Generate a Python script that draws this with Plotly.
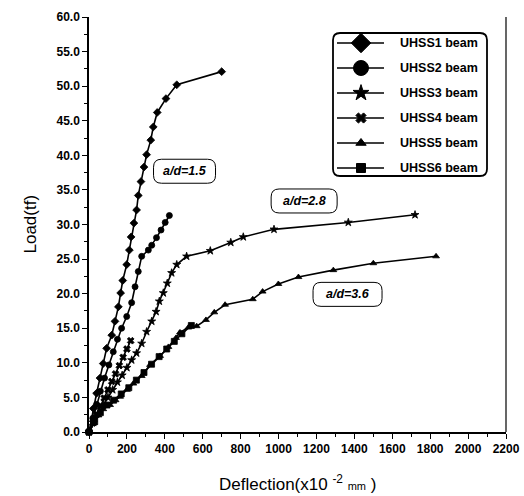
import plotly.graph_objects as go

# ---- load-deflection data (deflection in x10^-2 mm, load in tf) ----
uhss1_x = [0, 23, 40, 58, 75, 93, 120, 137, 155, 167, 178, 199, 213, 222, 237, 251, 260, 274, 290, 304, 326, 339, 360, 406, 463, 700]
uhss1_y = [0, 3.4, 5.6, 7.8, 9.9, 12.1, 14.0, 16.0, 18.1, 20.1, 21.9, 24.2, 26.3, 28.2, 30.2, 32.1, 34.2, 36.2, 38.3, 40.1, 42.2, 44.1, 46.2, 48.2, 50.2, 52.1]

uhss2_x = [0, 20, 40, 60, 82, 105, 128, 150, 172, 199, 225, 243, 260, 278, 313, 331, 356, 380, 402, 424]
uhss2_y = [0, 2.0, 4.0, 5.9, 7.8, 9.7, 11.6, 13.4, 15.0, 16.7, 18.7, 21.0, 23.2, 25.4, 26.3, 27.0, 28.1, 29.2, 30.3, 31.3]

uhss3_x = [0, 25, 50, 75, 100, 125, 150, 175, 200, 225, 251, 278, 304, 331, 354, 371, 392, 413, 436, 463, 515, 640, 748, 814, 976, 1368, 1720]
uhss3_y = [0, 1.4, 2.7, 3.9, 5.0, 6.1, 7.2, 8.2, 9.3, 10.4, 11.4, 12.8, 14.5, 16.0, 17.4, 18.9, 20.1, 21.5, 23.0, 24.2, 25.4, 26.2, 27.4, 28.2, 29.3, 30.3, 31.4]

uhss4_x = [0, 20, 40, 60, 80, 100, 120, 140, 160, 180, 200, 220]
uhss4_y = [0, 1.3, 2.5, 3.7, 4.9, 6.1, 7.3, 8.4, 9.6, 10.8, 12.0, 13.2]

uhss5_x = [0, 25, 50, 75, 111, 140, 164, 200, 234, 278, 322, 375, 419, 459, 480, 524, 568, 617, 661, 718, 864, 916, 999, 1105, 1289, 1500, 1831]
uhss5_y = [0, 1.3, 2.4, 3.3, 3.9, 4.6, 5.1, 6.1, 7.0, 8.1, 9.7, 11.0, 12.3, 13.6, 14.4, 15.1, 15.3, 16.2, 17.3, 18.4, 19.2, 20.3, 21.4, 22.4, 23.4, 24.4, 25.4]

uhss6_x = [0, 30, 60, 95, 130, 170, 210, 250, 290, 330, 370, 410, 450, 490, 540]
uhss6_y = [0, 1.5, 2.8, 3.9, 4.6, 5.5, 6.4, 7.5, 8.6, 9.8, 10.9, 12.0, 13.1, 14.2, 15.4]

series_names = ["UHSS1 beam", "UHSS2 beam", "UHSS3 beam", "UHSS4 beam", "UHSS5 beam", "UHSS6 beam"]
series_x = [uhss1_x, uhss2_x, uhss3_x, uhss4_x, uhss5_x, uhss6_x]
series_y = [uhss1_y, uhss2_y, uhss3_y, uhss4_y, uhss5_y, uhss6_y]
series_symbols = ["diamond", "circle", "star", "x", "triangle-up", "square"]
legend_marker_sizes = [15, 15, 12, 9, 9, 9]

# shear-span ratio labels (placed at deflection / load positions)
ratio_labels = ["a/d=1.5", "a/d=2.8", "a/d=3.6"]
ratio_x = [504, 1135, 1364]
ratio_y = [37.7, 33.4, 19.9]

x_ticks = list(range(0, 2201, 200))
y_ticks = [i * 5.0 for i in range(13)]

x_title = "Deflection(x10 <sup>-2</sup> <span style='font-size:11px'>mm</span> )"
y_title = "Load(tf)"

# ---- geometry of the canvas ----
W, H = 524, 496
L, R, T, B = 89, 18, 17, 64
PX0, PX1 = L, W - R          # plot area in pixels (x)
PY0, PY1 = T, H - B          # plot area in pixels (y, top->bottom)
XMAX, YMAX = 2200, 60

FONT = "Liberation Sans, Arial, sans-serif"


def data_to_px(x, y):
    return (PX0 + x / XMAX * (PX1 - PX0), PY1 - y / YMAX * (PY1 - PY0))


def rounded_rect(x0, y0, x1, y1, r):
    """SVG path of a rounded rectangle, in pixel coordinates."""
    return (f"M {x0 + r},{y0} L {x1 - r},{y0} Q {x1},{y0} {x1},{y0 + r} "
            f"L {x1},{y1 - r} Q {x1},{y1} {x1 - r},{y1} L {x0 + r},{y1} "
            f"Q {x0},{y1} {x0},{y1 - r} L {x0},{y0 + r} Q {x0},{y0} {x0 + r},{y0} Z")


fig = go.Figure()

for name, xs, ys, sym in zip(series_names, series_x, series_y, series_symbols):
    fig.add_trace(go.Scatter(
        x=xs, y=ys, mode="lines+markers", name=name, showlegend=False,
        line=dict(color="black", width=1.6),
        marker=dict(symbol=sym, size=6, color="black", line=dict(color="black", width=0.8)),
        cliponaxis=False,
    ))

# ---- hand-drawn legend on a pixel overlay axis ----
leg_x0, leg_x1, leg_y0, leg_y1 = 333, 487, 33, 176
row_y = [43 + 25 * i for i in range(len(series_names))]
for i, (name, sym) in enumerate(zip(series_names, series_symbols)):
    fig.add_trace(go.Scatter(
        x=[337, 361, 384], y=[row_y[i]] * 3, mode="lines", xaxis="x2", yaxis="y2",
        line=dict(color="black", width=1.6), showlegend=False, hoverinfo="skip",
    ))
    fig.add_trace(go.Scatter(
        x=[361], y=[row_y[i]], mode="markers", xaxis="x2", yaxis="y2",
        marker=dict(symbol=sym, size=legend_marker_sizes[i], color="black",
                    line=dict(color="black", width=1)),
        showlegend=False, hoverinfo="skip",
    ))
    fig.add_annotation(
        x=398, y=row_y[i], xref="x2", yref="y2", text=f"<b>{name}</b>",
        showarrow=False, xanchor="left", yanchor="middle",
        font=dict(family=FONT, size=12.5, color="black"),
    )

shapes = [
    dict(type="path", xref="x2", yref="y2",
         path=rounded_rect(leg_x0, leg_y0, leg_x1, leg_y1, 7),
         line=dict(color="black", width=1.8), fillcolor="rgba(0,0,0,0)"),
    # right frame line
    dict(type="line", xref="paper", yref="paper", x0=1, x1=1, y0=0, y1=1,
         line=dict(color="black", width=1.2)),
]

# ---- ratio labels inside rounded boxes ----
box_w, box_h = [62, 66, 69], [24, 24, 24]
for lab, lx, ly, bw, bh in zip(ratio_labels, ratio_x, ratio_y, box_w, box_h):
    cx, cy = data_to_px(lx, ly)
    shapes.append(dict(type="path", xref="x2", yref="y2",
                       path=rounded_rect(cx - bw / 2, cy - bh / 2, cx + bw / 2, cy + bh / 2, 8),
                       line=dict(color="black", width=1.0), fillcolor="white", layer="below"))
    fig.add_annotation(x=lx, y=ly, xref="x", yref="y", text=f"<b><i>{lab}</i></b>",
                       showarrow=False, font=dict(family=FONT, size=12.5, color="black"))

# ---- axis titles as free text ----
fig.add_annotation(x=0.5, y=(PY1 - 483) / (PY1 - PY0), xref="paper", yref="paper",
                   text=x_title, showarrow=False, xanchor="center", yanchor="middle",
                   font=dict(family=FONT, size=17, color="black"))
fig.add_annotation(x=(30 - PX0) / (PX1 - PX0), y=0.5, xref="paper", yref="paper",
                   text=y_title, showarrow=False, textangle=-90, xanchor="center", yanchor="middle",
                   font=dict(family=FONT, size=17, color="black"))

fig.update_layout(
    width=W, height=H,
    margin=dict(l=L, r=R, t=T, b=B, autoexpand=False),
    paper_bgcolor="white", plot_bgcolor="white",
    showlegend=False,
    shapes=shapes,
    xaxis=dict(
        range=[0, XMAX], tickvals=x_ticks, ticktext=[str(v) for v in x_ticks],
        showgrid=False, zeroline=False, showline=True, linecolor="black", linewidth=1.5,
        ticks="outside", ticklen=5, tickwidth=1.2, tickcolor="black",
        minor=dict(dtick=100, ticks="outside", ticklen=3, tickwidth=1, tickcolor="black"),
        tickfont=dict(family=FONT, size=12, color="black", weight="bold"),
        automargin=False,
    ),
    yaxis=dict(
        range=[0, YMAX], tickvals=y_ticks, ticktext=[f"{v:.1f}" for v in y_ticks],
        showgrid=False, zeroline=False, showline=True, linecolor="black", linewidth=1.5,
        ticks="outside", ticklen=5, tickwidth=1.2, tickcolor="black",
        minor=dict(dtick=2.5, ticks="outside", ticklen=3, tickwidth=1, tickcolor="black"),
        tickfont=dict(family=FONT, size=12, color="black", weight="bold"),
        automargin=False,
    ),
    xaxis2=dict(range=[PX0, PX1], overlaying="x", anchor="y2", visible=False, fixedrange=True),
    yaxis2=dict(range=[PY1, PY0], overlaying="y", anchor="x2", visible=False, fixedrange=True),
)

fig.write_html("out.html")
